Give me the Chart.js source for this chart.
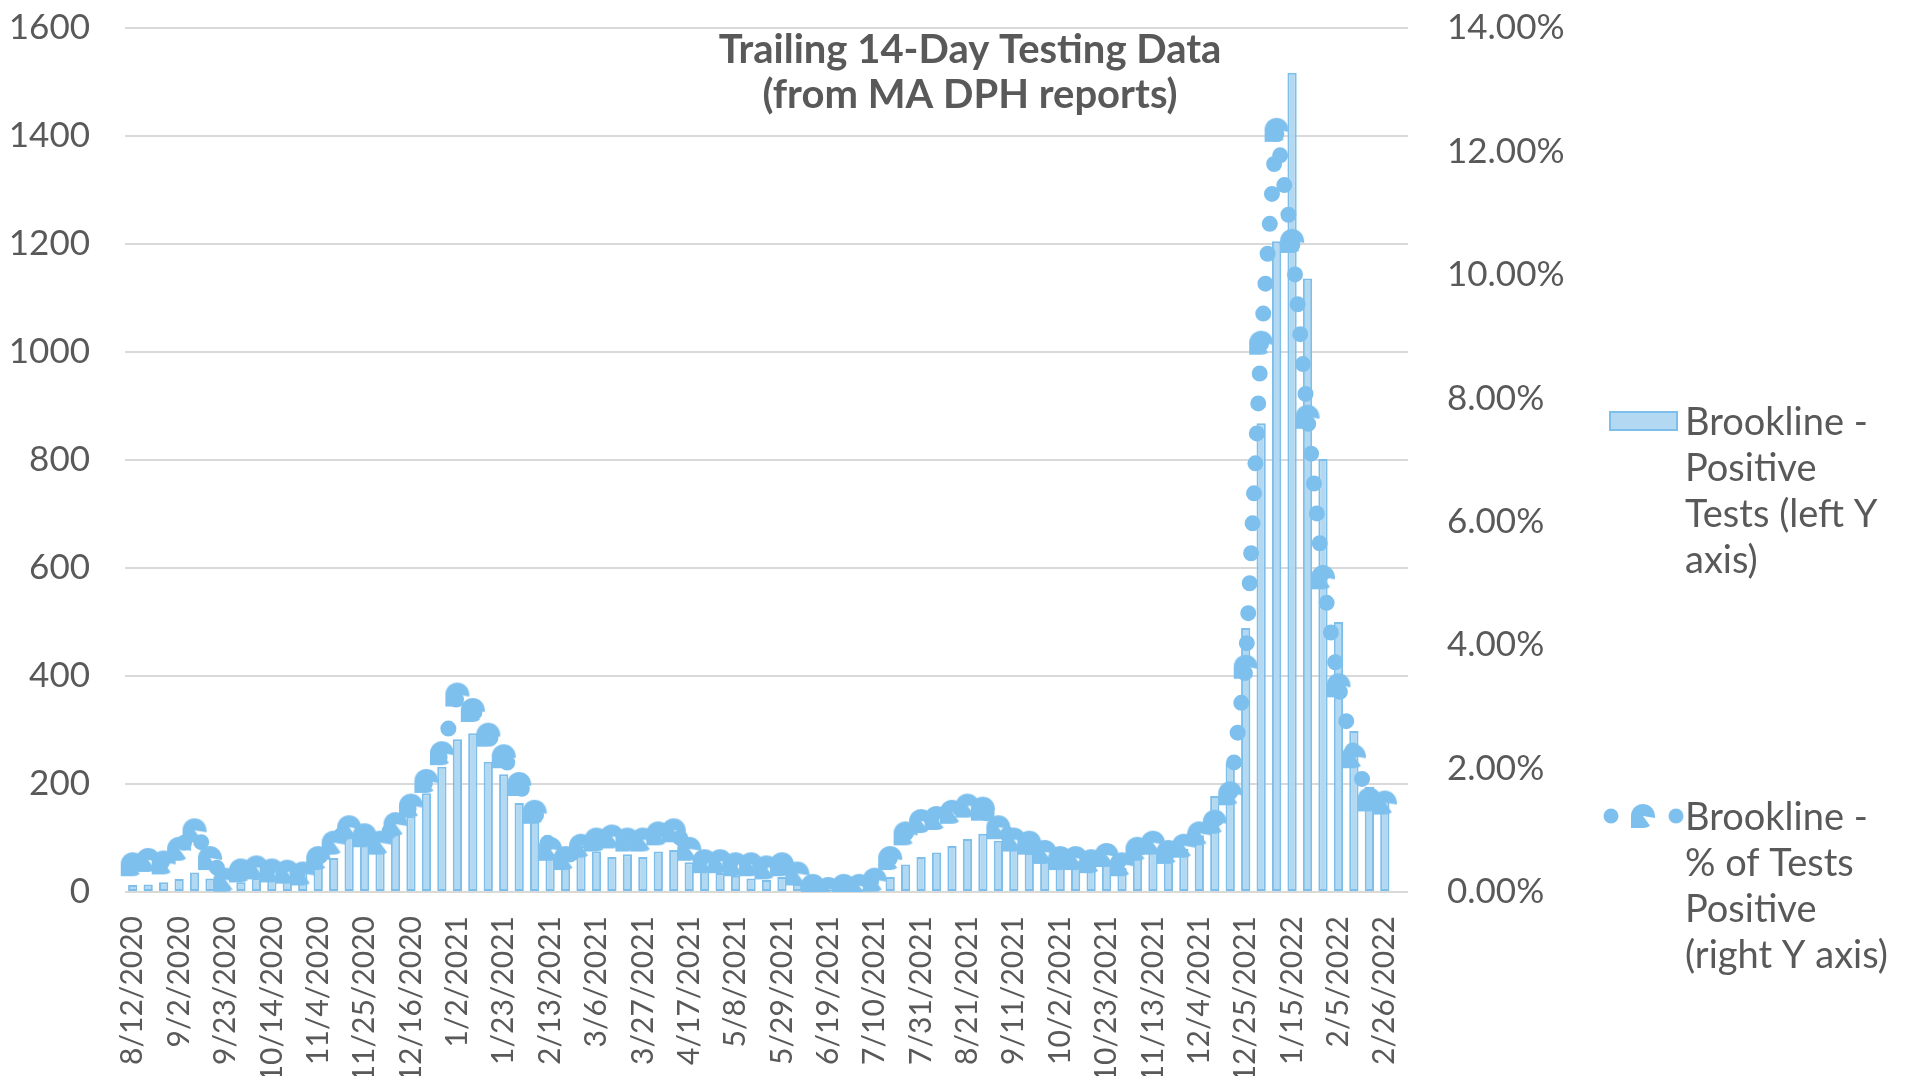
<!DOCTYPE html>
<html>
<head>
<meta charset="utf-8">
<title>Trailing 14-Day Testing Data</title>
<script src="https://cdn.jsdelivr.net/npm/chart.js@4.4.1/dist/chart.umd.min.js"></script>
<style>
  html, body { margin: 0; padding: 0; background: #fff; }
  #wrap { width: 1915px; height: 1076px; position: relative; }
</style>
</head>
<body>
<div id="wrap"><canvas id="testChart"></canvas></div>
<script>
// Weekly report dates (category axis), every 3rd one is labelled
const reportDates = [
    '8/12/2020', '8/19/2020', '8/26/2020', '9/2/2020', '9/9/2020', '9/16/2020', '9/23/2020',
    '9/30/2020', '10/7/2020', '10/14/2020', '10/21/2020', '10/28/2020', '11/4/2020', '11/11/2020',
    '11/18/2020', '11/25/2020', '12/2/2020', '12/9/2020', '12/16/2020', '12/23/2020', '12/30/2020',
    '1/2/2021', '1/9/2021', '1/16/2021', '1/23/2021', '1/30/2021', '2/6/2021', '2/13/2021',
    '2/20/2021', '2/27/2021', '3/6/2021', '3/13/2021', '3/20/2021', '3/27/2021', '4/3/2021',
    '4/10/2021', '4/17/2021', '4/24/2021', '5/1/2021', '5/8/2021', '5/15/2021', '5/22/2021',
    '5/29/2021', '6/5/2021', '6/12/2021', '6/19/2021', '6/26/2021', '7/3/2021', '7/10/2021',
    '7/17/2021', '7/24/2021', '7/31/2021', '8/7/2021', '8/14/2021', '8/21/2021', '8/28/2021',
    '9/4/2021', '9/11/2021', '9/18/2021', '9/25/2021', '10/2/2021', '10/9/2021', '10/16/2021',
    '10/23/2021', '10/30/2021', '11/6/2021', '11/13/2021', '11/20/2021', '11/27/2021', '12/4/2021',
    '12/11/2021', '12/18/2021', '12/25/2021', '1/1/2022', '1/8/2022', '1/15/2022', '1/22/2022',
    '1/29/2022', '2/5/2022', '2/12/2022', '2/19/2022', '2/26/2022', '3/5/2022'
];

// Brookline - Positive Tests (left Y axis)
const positiveTests = [
    13, 14, 18, 24, 36, 25, 12, 18, 25, 28, 30, 45, 78, 63,
    110, 90, 80, 110, 140, 183, 232, 283, 294, 241, 218, 165, 133, 70,
    50, 85, 75, 65, 70, 65, 75, 78, 55, 42, 35, 30, 25, 22,
    28, 15, 8, 5, 5, 5, 8, 28, 51, 65, 73, 85, 98, 108,
    95, 80, 72, 65, 60, 57, 52, 55, 45, 62, 75, 68, 80, 105,
    178, 240, 489, 868, 1205, 1517, 1136, 802, 500, 298, 195, 182, null
];

// Brookline - % of Tests Positive (right Y axis), in percent
const pctPositive = [
    0.45, 0.52, 0.48, 0.7, 1.0, 0.55, 0.2, 0.35, 0.4, 0.35, 0.33, 0.3, 0.55, 0.8,
    1.05, 0.92, 0.8, 1.1, 1.4, 1.8, 2.25, 3.2, 2.95, 2.55, 2.2, 1.75, 1.3, 0.7,
    0.55, 0.75, 0.85, 0.9, 0.85, 0.85, 0.95, 1.0, 0.7, 0.5, 0.5, 0.45, 0.45, 0.4,
    0.45, 0.3, 0.1, 0.05, 0.1, 0.1, 0.2, 0.55, 0.95, 1.15, 1.2, 1.3, 1.4, 1.35,
    1.05, 0.85, 0.8, 0.65, 0.55, 0.55, 0.5, 0.6, 0.45, 0.7, 0.8, 0.65, 0.75, 0.95,
    1.14, 1.6, 3.65, 8.9, 12.35, 10.55, 7.7, 5.1, 3.35, 2.2, 1.5, 1.45, null
];

const leftTicks = [0, 200, 400, 600, 800, 1000, 1200, 1400, 1600];
const rightTicks = [0, 2, 4, 6, 8, 10, 12, 14];

const titleLines = ['Trailing 14-Day Testing Data', '(from MA DPH reports)'];
const barLegend = ['Brookline -', 'Positive', 'Tests (left Y', 'axis)'];
const lineLegend = ['Brookline -', '% of Tests', 'Positive', '(right Y axis)'];

const textColor = '#595959';
const barFill = '#b2d8f2';
const barEdge = '#7dbfea';
const dotColor = '#7ec0ed';
const FONT = 'Lato, "Open Sans", sans-serif';

// where the plot area sits in the original
const plotBox = { top: 28, bottom: 892, left: 125, right: 1408 };

Chart.defaults.font.family = FONT;
Chart.defaults.color = textColor;

// odd notched marker, like the one Excel drew
function makeMarker() {
    const c = document.createElement('canvas');
    c.width = 28;
    c.height = 26;
    const g = c.getContext('2d');
    g.fillStyle = dotColor;
    g.beginPath();
    g.moveTo(14, 13);
    g.arc(14, 13, 12, 0.3 * Math.PI, 2.05 * Math.PI);
    g.closePath();
    g.fill();
    g.fillRect(2, 13, 12, 12);
    return c;
}
const marker = makeMarker();

// title drawn over the plot, the way the original overlaps it
const titlePlugin = {
    id: 'overTitle',
    afterDraw(chart) {
        const ctx = chart.ctx;
        ctx.save();
        ctx.fillStyle = textColor;
        ctx.font = 'bold 40px ' + FONT;
        ctx.textAlign = 'center';
        ctx.textBaseline = 'middle';
        ctx.fillText(titleLines[0], 970, 50);
        ctx.fillText(titleLines[1], 970, 95);
        ctx.restore();
    }
};

// legend on the right with wrapped text
const sideLegend = {
    id: 'sideLegend',
    afterDraw(chart) {
        const ctx = chart.ctx;
        ctx.save();
        ctx.font = '38px ' + FONT;
        ctx.textAlign = 'left';
        ctx.textBaseline = 'middle';

        // bar entry
        ctx.fillStyle = barFill;
        ctx.fillRect(1610, 412, 67, 18);
        ctx.strokeStyle = barEdge;
        ctx.lineWidth = 2;
        ctx.strokeRect(1610, 412, 67, 18);
        ctx.fillStyle = textColor;
        barLegend.forEach((t, i) => ctx.fillText(t, 1685, 423 + i * 46));

        // line entry
        ctx.fillStyle = dotColor;
        ctx.beginPath(); ctx.arc(1611, 816, 7.5, 0, Math.PI * 2); ctx.fill();
        ctx.beginPath(); ctx.arc(1676, 816, 7.5, 0, Math.PI * 2); ctx.fill();
        ctx.drawImage(marker, 1643 - 14, 816 - 13);
        ctx.fillStyle = textColor;
        lineLegend.forEach((t, i) => ctx.fillText(t, 1685, 818 + i * 46));
        ctx.restore();
    }
};

// tick padding gets added to the scale's own top/bottom padding; drop it
function noEdgePad(s) {
    s.paddingTop = 0;
    s.paddingBottom = 0;
}

const ctx = document.getElementById('testChart').getContext('2d');
const chartCfg = {
    data: {
        labels: reportDates,
        datasets: [
            {
                type: 'line',
                label: lineLegend.join(' '),
                data: pctPositive,
                yAxisID: 'yPct',
                order: 0,
                borderColor: dotColor,
                borderWidth: 16,
                borderDash: [0, 30],
                borderCapStyle: 'round',
                borderJoinStyle: 'round',
                tension: 0,
                fill: false,
                pointStyle: marker,
                pointRadius: 12,
                pointHoverRadius: 12,
                pointBackgroundColor: dotColor,
                pointBorderWidth: 0
            },
            {
                type: 'bar',
                label: barLegend.join(' '),
                data: positiveTests,
                yAxisID: 'yPos',
                order: 1,
                backgroundColor: barFill,
                borderColor: barEdge,
                borderWidth: 2,
                borderSkipped: false,
                categoryPercentage: 1.0,
                barPercentage: 0.6
            }
        ]
    },
    options: {
        responsive: true,
        maintainAspectRatio: false,
        animation: false,
        layout: { padding: { top: plotBox.top, left: 0, right: 0, bottom: 0 } },
        plugins: {
            legend: { display: false },
            title: { display: false },
            tooltip: { enabled: false }
        },
        scales: {
            x: {
                offset: true,
                grid: { display: false },
                border: { display: false },
                ticks: {
                    autoSkip: false,
                    minRotation: 90,
                    maxRotation: 90,
                    padding: 16,
                    font: { size: 30 },
                    color: textColor,
                    callback: (v, i) => (i % 3 === 0 ? reportDates[i] : null)
                },
                afterFit: s => {
                    s.height = 1076 - plotBox.bottom;
                    s.paddingLeft = 0;
                    s.paddingRight = 0;
                }
            },
            yPos: {
                position: 'left',
                min: 0,
                max: 1600,
                afterBuildTicks: s => { s.ticks = leftTicks.map(v => ({ value: v })); },
                grid: { color: '#d9d9d9', lineWidth: 2, drawTicks: false },
                border: { display: false },
                ticks: { padding: 35, font: { size: 35 }, color: textColor, callback: v => String(v) },
                afterFit: s => { s.width = plotBox.left; noEdgePad(s); }
            },
            yPct: {
                position: 'right',
                min: 0,
                max: 14,
                afterBuildTicks: s => { s.ticks = rightTicks.map(v => ({ value: v })); },
                grid: { drawOnChartArea: false, drawTicks: false },
                border: { display: false },
                ticks: {
                    padding: 39,
                    font: { size: 35 },
                    color: textColor,
                    callback: v => v.toFixed(2) + '%'
                },
                afterFit: s => { s.width = 1915 - plotBox.right; noEdgePad(s); }
            }
        }
    },
    plugins: [titlePlugin, sideLegend]
};
const testChart = new Chart(ctx, chartCfg);

// nudge the top padding so the plot top lands where the original has it
const off = plotBox.top - testChart.chartArea.top;
if (Math.abs(off) > 0.5) {
    testChart.options.layout.padding = { top: plotBox.top + off, left: 0, right: 0, bottom: 0 };
    testChart.update('none');
}
</script>
</body>
</html>
